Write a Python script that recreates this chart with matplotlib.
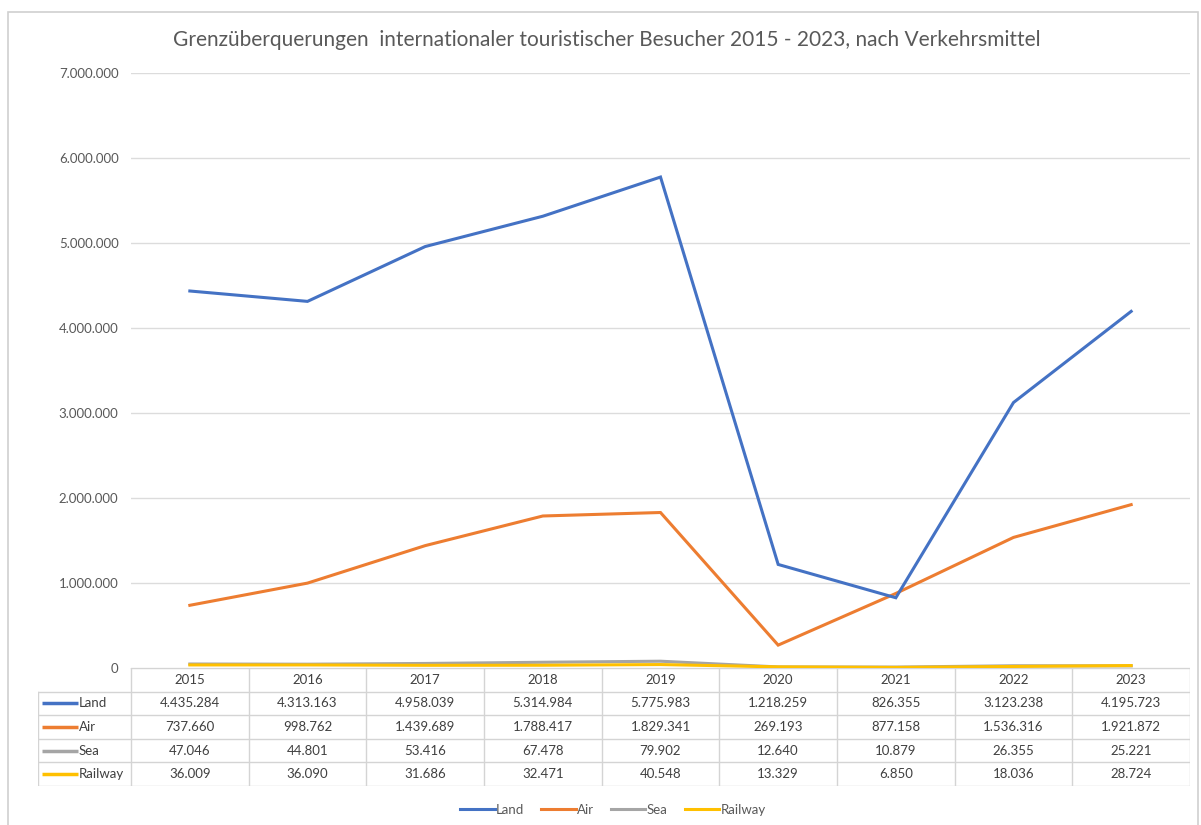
import matplotlib.pyplot as plt
import matplotlib.ticker as mticker
from matplotlib.patches import Rectangle
import numpy as np

years = ['2015', '2016', '2017', '2018', '2019', '2020', '2021', '2022', '2023']
land = [4435284, 4313163, 4958039, 5314984, 5775983, 1218259, 826355, 3123238, 4195723]
air = [737660, 998762, 1439689, 1788417, 1829341, 269193, 877158, 1536316, 1921872]
sea = [47046, 44801, 53416, 67478, 79902, 12640, 10879, 26355, 25221]
railway = [36009, 36090, 31686, 32471, 40548, 13329, 6850, 18036, 28724]

series_names = ['Land', 'Air', 'Sea', 'Railway']
series_values = [land, air, sea, railway]
colors = ['#4472C4', '#ED7D31', '#A5A5A5', '#FFC000']

title = 'Grenzüberquerungen  internationaler touristischer Besucher 2015 - 2023, nach Verkehrsmittel'

plt.rcParams['font.family'] = ['Lato', 'DejaVu Sans']

W, H = 1201, 825


def fx(px):
    return px / W


def fy(py):
    return 1 - py / H


def de_fmt(v):
    # german thousands separator
    return f'{int(v):,}'.replace(',', '.')


fig = plt.figure(figsize=(W / 100, H / 100), dpi=100)

# outer chart border
fig.patches.append(Rectangle((fx(8), fy(832)), fx(1198) - fx(8), fy(12) - fy(832),
                             transform=fig.transFigure, fill=False,
                             edgecolor='#d0d0d0', lw=1.2))

fig.text(fx(607), fy(40), title, ha='center', va='center', fontsize=15, color='#595959')

# main plot area
ax = fig.add_axes([fx(131), fy(668), fx(1190) - fx(131), (668 - 73) / H])
x = np.arange(len(years))
for name, vals, c, z in zip(series_names, series_values, colors, [4, 3, 2, 5]):
    ax.plot(x, vals, color=c, lw=2.2, label=name, zorder=z, solid_joinstyle='miter')

ax.set_xlim(-0.5, len(years) - 0.5)
ax.set_ylim(0, 7000000)
ax.set_yticks(np.arange(0, 7000001, 1000000))
ax.yaxis.set_major_formatter(mticker.FuncFormatter(lambda v, p: de_fmt(v)))
ax.tick_params(axis='y', length=0, pad=9, labelsize=9.5, labelcolor='#595959')
ax.set_xticks([])
ax.grid(axis='y', color='#dcdcdc', lw=1)
ax.set_axisbelow(True)
for s in ax.spines.values():
    s.set_visible(False)

# data table under the plot
tax = fig.add_axes([fx(38), fy(786), fx(1190) - fx(38), (786 - 668) / H])
x_left = -0.5 - 93 / 117.7
n = len(years)
tax.set_xlim(x_left, n - 0.5)
tax.set_ylim(5, 0)
tax.axis('off')
grid_c = '#d4d4d4'
tax.plot([-0.5, n - 0.5], [0, 0], color=grid_c, lw=1)
for r in range(1, 6):
    tax.plot([x_left, n - 0.5], [r, r], color=grid_c, lw=1)
for i in range(n + 1):
    tax.plot([i - 0.5, i - 0.5], [0, 5], color=grid_c, lw=1)
tax.plot([x_left, x_left], [1, 5], color=grid_c, lw=1)

for i, yr in enumerate(years):
    tax.text(i, 0.5, yr, ha='center', va='center', fontsize=9.5, color='#404040')
for r, (name, vals, c) in enumerate(zip(series_names, series_values, colors), start=1):
    tax.plot([x_left + 0.035, x_left + 0.34], [r + 0.5, r + 0.5], color=c, lw=2.5,
             solid_capstyle='butt')
    tax.text(x_left + 0.345, r + 0.5, name, ha='left', va='center', fontsize=9.5,
             color='#404040')
    for i, v in enumerate(vals):
        tax.text(i, r + 0.5, de_fmt(v), ha='center', va='center', fontsize=9.5,
                 color='#404040')

handles, labels = ax.get_legend_handles_labels()
leg = fig.legend([handles[labels.index(n)] for n in series_names], series_names,
                 loc='center', bbox_to_anchor=(fx(613), fy(810)), ncol=4, frameon=False,
                 fontsize=9.5, handlelength=2.6, handletextpad=0.1, columnspacing=1.3)
for t in leg.get_texts():
    t.set_color('#595959')

fig.savefig('out.png', dpi=100)
